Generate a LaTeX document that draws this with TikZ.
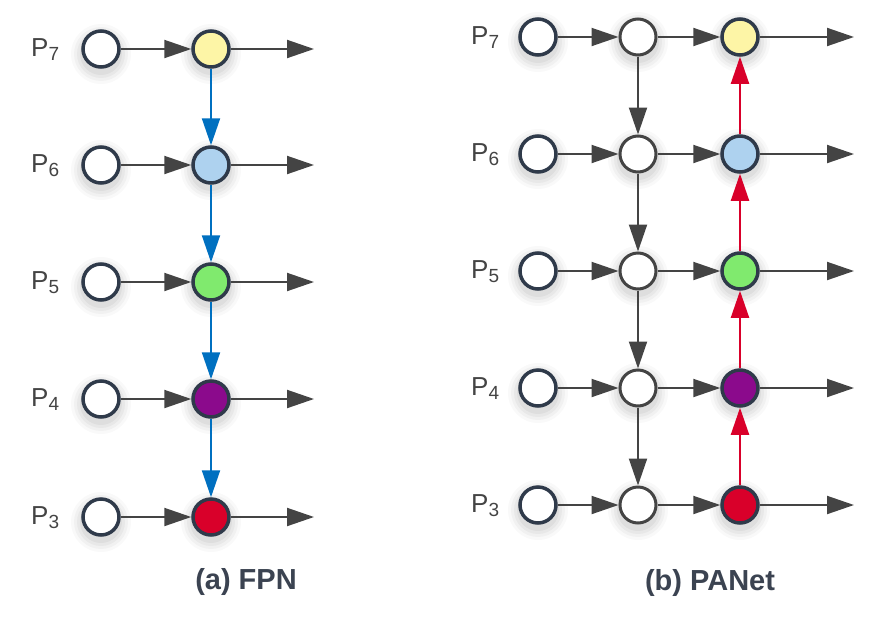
\documentclass[tikz,border=0pt]{standalone}
\usepackage{fontspec}
\setmainfont{Liberation Sans}
\usetikzlibrary{arrows.meta}
\definecolor{navy}{HTML}{2F3A4A}
\definecolor{midgray}{HTML}{444444}
\definecolor{cyel}{HTML}{FDF5A6}
\definecolor{cblue}{HTML}{AED2EF}
\definecolor{cgreen}{HTML}{80EA6E}
\definecolor{cpurple}{HTML}{8B0A8C}
\definecolor{cred}{HTML}{D9002A}
\definecolor{ablue}{HTML}{0070C0}
\definecolor{capcol}{HTML}{3B4351}
\begin{document}
\begin{tikzpicture}[x=1pt,y=-1pt,
  nd/.style={circle,minimum size=36pt,inner sep=0pt,line width=3.5pt,draw=navy,fill=white},
  midnd/.style={nd,draw=midgray,line width=3pt},
  conn/.style={line width=2pt,draw=midgray,-{Triangle[length=27pt,width=18pt]}},
  bconn/.style={conn,draw=ablue,-{Triangle[length=27pt,width=18pt,fill=ablue]}},
  rconn/.style={conn,draw=cred,-{Triangle[length=27pt,width=18pt,fill=cred]}},
  plab/.style={anchor=base west,inner sep=0pt,text=midgray,font=\fontsize{26}{30}\selectfont},
  captext/.style={anchor=base,inner sep=0pt,text=capcol,font=\bfseries\fontsize{29}{34}\selectfont}
]
\fill[white] (0,0) rectangle (884,619);
\useasboundingbox (0,0) rectangle (884,619);
\newcommand{\psub}[1]{P\raisebox{-0.18em}{\fontsize{19}{20}\selectfont #1}}
\newcommand{\softshadow}[2]{%
  \foreach \r/\o in {30/0.025,27/0.03,24/0.035,21/0.04}{\fill[black,opacity=\o] (#1,#2+5) circle (\r);}}
% ---------- shadows ----------
\foreach \y in {49,165,282,399,517}{\softshadow{101}{\y}\softshadow{211}{\y}}
\foreach \y in {37,154,271,388,505}{\softshadow{538}{\y}\softshadow{638}{\y}\softshadow{740}{\y}}
% ---------- FPN ----------
\foreach \i/\y/\c in {7/49/cyel,6/165/cblue,5/282/cgreen,4/399/cpurple,3/517/cred}{
  \node[plab] (fl\i) at (31,\y+7) {\psub{\i}};
  \node[nd] (fa\i) at (101,\y) {};
  \node[nd,fill=\c] (fb\i) at (211,\y) {};
  \coordinate (fo\i) at (314,\y);
  \draw[conn] (fa\i) -- (fb\i);
  \draw[conn] (fb\i) -- (fo\i);
}
\draw[bconn] (fb7) -- (fb6);
\draw[bconn] (fb6) -- (fb5);
\draw[bconn] (fb5) -- (fb4);
\draw[bconn] (fb4) -- (fb3);
\node[captext] (capa) at (246,589) {(a) FPN};
% ---------- PANet ----------
\foreach \i/\y/\c in {7/37/cyel,6/154/cblue,5/271/cgreen,4/388/cpurple,3/505/cred}{
  \node[plab] (pl\i) at (471,\y+7) {\psub{\i}};
  \node[nd] (pa\i) at (538,\y) {};
  \node[midnd] (pb\i) at (638,\y) {};
  \node[nd,fill=\c] (pc\i) at (740,\y) {};
  \coordinate (po\i) at (854,\y);
  \draw[conn] (pa\i) -- (pb\i);
  \draw[conn] (pb\i) -- (pc\i);
  \draw[conn] (pc\i) -- (po\i);
}
\draw[conn] (pb7) -- (pb6);
\draw[conn] (pb6) -- (pb5);
\draw[conn] (pb5) -- (pb4);
\draw[conn] (pb4) -- (pb3);
\draw[rconn] (pc3) -- (pc4);
\draw[rconn] (pc4) -- (pc5);
\draw[rconn] (pc5) -- (pc6);
\draw[rconn] (pc6) -- (pc7);
\node[captext] (capb) at (710,590) {(b) PANet};
\end{tikzpicture}
\end{document}
